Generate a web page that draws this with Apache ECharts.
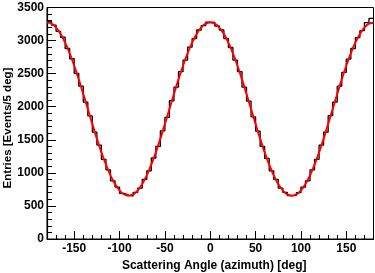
<!DOCTYPE html>
<html><head><meta charset="utf-8">
<script src="https://cdn.jsdelivr.net/npm/echarts@6/dist/echarts.min.js"></script>
<style>html,body{margin:0;padding:0;background:#fff}#c{width:375px;height:273px}</style>
</head><body><div id="c"></div>
<script>
// Histogram: 72 bins of 5 deg from -180 to 180 (left edges)
const binEdges = [];
for (let e = -180; e < 180; e += 5) binEdges.push(e);
const binCounts = [
  3285, 3235, 3140, 3050, 2880, 2725, 2505, 2310, 2070, 1860, 1615, 1420, 1205, 1045, 880, 785, 690, 665,
  650, 705, 770, 900, 1030, 1225, 1400, 1635, 1840, 2090, 2295, 2530, 2705, 2900, 3030, 3160, 3225, 3280,
  3275, 3220, 3160, 3030, 2895, 2705, 2530, 2295, 2085, 1845, 1630, 1400, 1220, 1030, 900, 770, 705, 655,
  660, 700, 785, 880, 1045, 1205, 1420, 1615, 1865, 2070, 2310, 2520, 2720, 2880, 3045, 3150, 3270, 3335
];
// Fit curve sampled every 5 deg from -180 to 180
const fitX = [];
for (let e = -180; e <= 180; e += 5) fitX.push(e);
const fitY = [
  3275, 3255, 3196, 3100, 2968, 2807, 2620, 2413, 2192, 1965, 1738, 1517, 1310, 1123, 962, 831, 734, 675, 655,
  675, 734, 831, 962, 1123, 1310, 1517, 1738, 1965, 2192, 2413, 2620, 2807, 2968, 3100, 3196, 3255, 3275,
  3255, 3196, 3100, 2968, 2807, 2620, 2413, 2192, 1965, 1738, 1517, 1310, 1123, 962, 831, 734, 675, 655,
  675, 734, 831, 962, 1123, 1310, 1517, 1738, 1965, 2192, 2413, 2620, 2807, 2968, 3100, 3196, 3255, 3270
];
const xMajorTicks = [-150, -100, -50, 0, 50, 100, 150];
const xTitle = 'Scattering Angle (azimuth) [deg]';
const yTitle = 'Entries [Events/5 deg]';

const histData = binEdges.map((e, i) => [e, binCounts[i]]);
histData.push([180, binCounts[binCounts.length - 1]]);
const fitData = fitX.map((x, i) => [x, fitY[i]]);

const font = 'Liberation Sans, Arial, sans-serif';
const chart = echarts.init(document.getElementById('c'), null, {renderer: 'canvas'});
chart.setOption({
  animation: false,
  grid: {left: 47, right: 1.5, top: 7.5, bottom: 34, show: true, borderColor: '#000', borderWidth: 1,
         containLabel: false, outerBoundsMode: 'none'},
  graphic: [{
    type: 'text', x: 8, y: 128, rotation: Math.PI / 2,
    style: {text: yTitle, fill: '#000', font: 'bold 11.5px ' + font, align: 'center', verticalAlign: 'middle'}
  }],
  xAxis: [{
    type: 'value', min: -180, max: 180,
    axisLine: {show: true, onZero: false, lineStyle: {color: '#000', width: 1.2}},
    axisTick: {show: true, inside: true, length: 8, customValues: xMajorTicks, lineStyle: {color: '#000', width: 1}},
    axisLabel: {show: true, customValues: xMajorTicks, color: '#000', fontFamily: font, fontWeight: 'bold', fontSize: 12, margin: 4,
                formatter: v => String(v)},
    splitLine: {show: false},
    name: xTitle, nameLocation: 'middle', nameGap: 20,
    nameTextStyle: {color: '#000', fontFamily: font, fontWeight: 'bold', fontSize: 12, padding: [0, 0, 0, 8]}
  }, {
    type: 'value', min: -180, max: 180, interval: 10, position: 'bottom',
    axisLine: {show: false, onZero: false},
    axisTick: {show: true, inside: true, length: 4, lineStyle: {color: '#000', width: 1}},
    axisLabel: {show: false}, splitLine: {show: false}
  }],
  yAxis: {
    type: 'value', min: 0, max: 3500, interval: 500,
    axisLine: {show: true, onZero: false, lineStyle: {color: '#000', width: 1.2}},
    axisTick: {show: true, inside: true, length: 9, lineStyle: {color: '#000', width: 1}},
    minorTick: {show: true, splitNumber: 5, length: 5, lineStyle: {color: '#000', width: 1}},
    axisLabel: {color: '#000', fontFamily: font, fontWeight: 'bold', fontSize: 12, margin: 3, formatter: v => String(v)},
    splitLine: {show: false}
  },
  series: [{
    type: 'line', xAxisIndex: 0, data: histData, step: 'end', symbol: 'none',
    lineStyle: {color: '#000', width: 1.3}, z: 2
  }, {
    type: 'line', xAxisIndex: 0, data: fitData, smooth: true, symbol: 'none',
    lineStyle: {color: '#ff0000', width: 2}, z: 3
  }]
});
</script></body></html>
